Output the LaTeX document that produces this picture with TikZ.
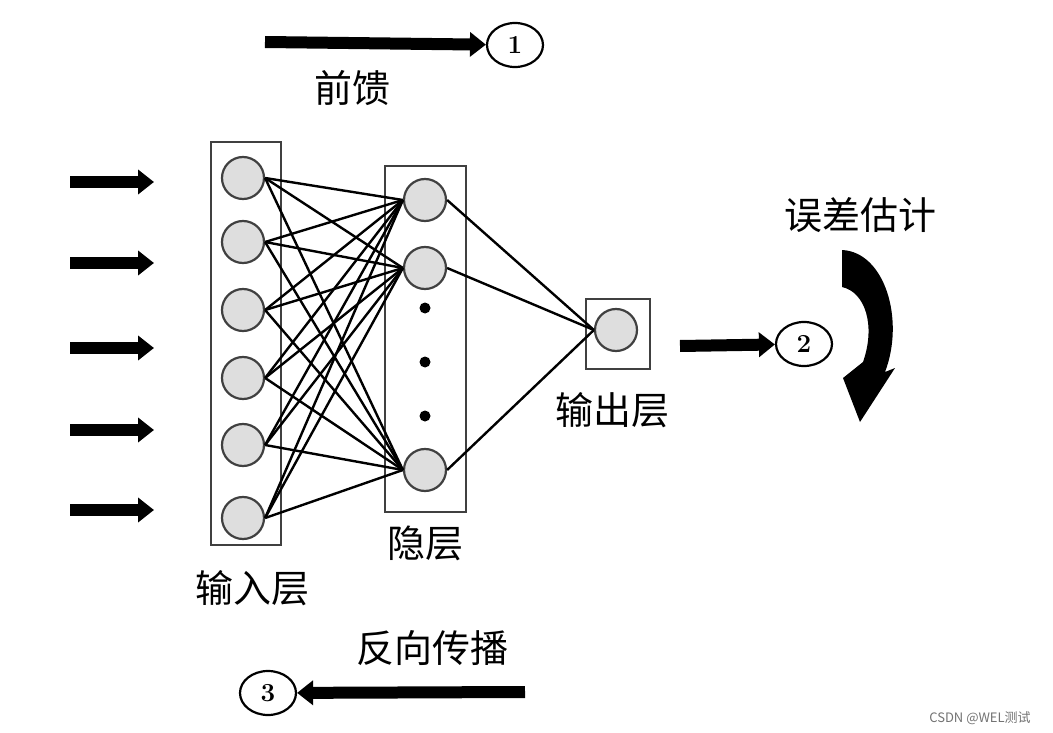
\documentclass[tikz,border=0pt]{standalone}
\usepackage{fontspec}
\usetikzlibrary{arrows.meta,shapes.geometric}
\newfontfamily\cjk{Noto Sans CJK SC}
\begin{document}
\begin{tikzpicture}[x=1pt,y=-1pt,
  neuron/.style={circle,draw=black!75,line width=2.2pt,fill=black!13,minimum size=42pt,inner sep=0pt},
  layer/.style={draw=black!75,line width=2.4pt},
  conn/.style={line width=2.4pt},
  fat/.style={line width=12pt,-{Triangle[length=16pt,width=24pt]}},
  num/.style={ellipse,draw,line width=2.2pt,minimum width=56pt,minimum height=44pt,font=\bfseries\fontsize{26}{26}\selectfont},
  lab/.style={font=\cjk\fontsize{38}{38}\selectfont}]
\useasboundingbox (0,0) rectangle (1053,733);
\fill[white] (0,0) rectangle (1053,733);
\draw[layer] (211,142) rectangle (281,545);
\draw[layer] (385,166) rectangle (466,512);
\draw[layer] (586,299) rectangle (650,369);
\foreach \i/\y in {1/178,2/242,3/310,4/378,5/445,6/518} \node[neuron] (i\i) at (243,\y) {};
\foreach \j/\y in {1/200,2/268,3/470} \node[neuron] (h\j) at (425,\y) {};
\node[neuron] (o) at (616,330) {};
\foreach \y in {308,362,416} \fill (425,\y) circle (5.5pt);
\foreach \i in {1,...,6} \foreach \j in {1,2,3} \draw[conn] (i\i.east) -- (h\j.west);
\foreach \j in {1,2,3} \draw[conn] (h\j.east) -- (o.west);
\foreach \y [count=\k] in {182,263,348,430,510} {
  \coordinate (a\k) at (70,\y); \coordinate (b\k) at (154,\y);
  \draw[fat] (a\k) -- (b\k);}
\coordinate (t1) at (265,42); \node[num] (n1) at (515,45) {1};
\draw[fat] (t1) -- (n1);
\node[num] (n2) at (804,344) {2};
\coordinate (t2) at (680,346); \draw[fat] (t2) -- (n2);
\node[num] (n3) at (268,693) {3};
\coordinate (t3) at (525,692); \draw[fat] (t3) -- (n3);
\node[lab] (l1) at (352,88) {前馈};
\node[lab] (l2) at (860,215) {误差估计};
\node[lab] (l3) at (612,410) {输出层};
\node[lab] (l4) at (425,543) {隐层};
\node[lab] (l5) at (252,588) {输入层};
\node[lab] (l6) at (432,648) {反向传播};
\fill (842,250) .. controls (885,252) and (905,320) .. (885,372) -- (895,368) -- (860,422) -- (843,378) -- (863,362) .. controls (876,325) and (865,292) .. (842,287) -- cycle;
\node[font=\cjk\fontsize{13}{13}\selectfont,text=black!55] (c) at (980,718) {CSDN @WEL测试};
\end{tikzpicture}
\end{document}
